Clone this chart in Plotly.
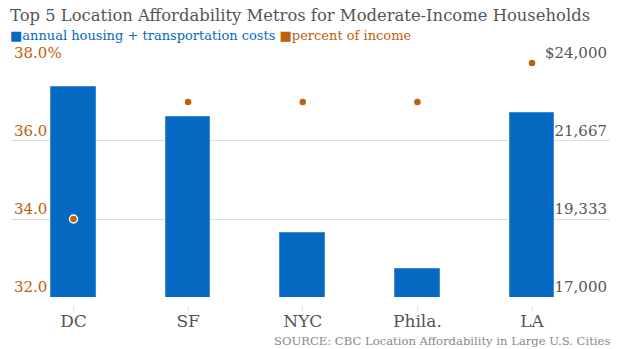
import plotly.graph_objects as go

# Data
metros = ["DC", "SF", "NYC", "Phila.", "LA"]
annual_costs = [23290, 22390, 18915, 17840, 22510]
pct_income = [34.0, 37.0, 37.0, 37.0, 38.0]

cost_ticks = [17000, 19333, 21667, 24000]
cost_tick_text = ["17,000", "19,333", "21,667", "$24,000"]
pct_ticks = [32, 34, 36, 38]
pct_tick_text = ["32.0", "34.0", "36.0", "38.0%"]

BLUE = "#0568c1"
ORANGE = "#c0600c"
FONT = "DejaVu Serif"

fig = go.Figure()

fig.add_trace(go.Bar(
    x=metros, y=annual_costs, yaxis="y",
    marker=dict(color=BLUE, line=dict(color="#3d8ad6", width=1)),
    width=0.39, showlegend=False,
))
fig.add_trace(go.Scatter(
    x=metros, y=pct_income, yaxis="y2", mode="markers",
    marker=dict(color=ORANGE, size=8, line=dict(color="white", width=1.5)),
    showlegend=False, cliponaxis=False,
))

fig.update_layout(
    width=620, height=349,
    margin=dict(l=11, r=10, t=63, b=43),
    paper_bgcolor="white", plot_bgcolor="white",
    bargap=0,
    font=dict(family=FONT),
    xaxis=dict(
        range=[-0.545, 4.68], anchor="free", position=0,
        showgrid=False, showline=False, zeroline=False,
        ticks="outside", ticklen=4, tickcolor="#dddddd", tickwidth=1,
        ticklabelstandoff=-4,
        tickfont=dict(size=17, color="#555555", family=FONT),
    ),
    yaxis=dict(
        domain=[0.037, 1], range=[17000, 24000], side="right",
        tickvals=cost_ticks, ticktext=cost_tick_text,
        ticklabelposition="inside", ticklabelshift=-10, ticklabeloverflow="allow",
        ticklabelstandoff=0,
        tickfont=dict(size=15, color="#555555", family=FONT),
        showgrid=True, gridcolor="#dedede", gridwidth=1,
        zeroline=False, showline=False, ticks="",
    ),
    yaxis2=dict(
        overlaying="y", range=[32, 38], side="left",
        tickvals=pct_ticks, ticktext=pct_tick_text,
        ticklabelposition="inside", ticklabelshift=-10, ticklabeloverflow="allow",
        ticklabelstandoff=0,
        tickfont=dict(size=15, color=ORANGE, family=FONT),
        showgrid=False, zeroline=False, showline=False, ticks="",
    ),
)

# Header and footer text, positioned in pixels and converted to paper units
plot_w = 620 - 11 - 10
plot_h = 349 - 63 - 43


def px_to_paper(x, y):
    return (x - 11) / plot_w, (349 - y - 43) / plot_h


def add_text(text, x, y, anchor, size, color=None):
    px, py = px_to_paper(x, y)
    font = dict(size=size, family=FONT)
    if color:
        font["color"] = color
    fig.add_annotation(text=text, x=px, y=py, xref="paper", yref="paper",
                       showarrow=False, xanchor=anchor, yanchor="middle",
                       font=font)


add_text("Top 5 Location Affordability Metros for Moderate-Income Households",
         8, 15, "left", 16.4, "#555555")
add_text(f"<span style='color:{BLUE}'>■annual housing + transportation costs</span> "
         f"<span style='color:{ORANGE}'>■percent of income</span>",
         8, 35, "left", 13)
add_text("SOURCE: CBC Location Affordability in Large U.S. Cities",
         612, 341, "right", 11.6, "#888888")

fig.write_html("out.html")
